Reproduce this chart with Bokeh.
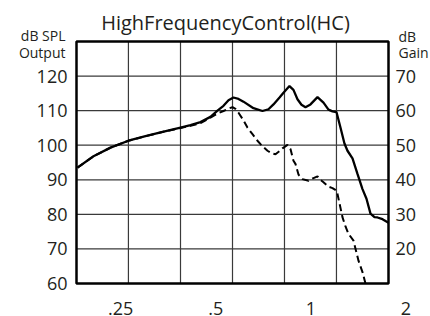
import math
from bokeh.plotting import figure
from bokeh.models import Range1d
from bokeh.core.properties import value
from bokeh.embed import file_html
from bokeh.resources import INLINE

title_text = "HighFrequencyControl(HC)"

# frequency in kHz (log axis) and output in dB SPL (solid curve)
solid_freq = [0.1826, 0.2052, 0.2323, 0.2647, 0.2997, 0.3345, 0.3869, 0.4161, 0.4476, 0.4813,
              0.5066, 0.5292, 0.549, 0.5692, 0.5905, 0.6122, 0.6586, 0.7031, 0.7346, 0.7619,
              0.7963, 0.8196, 0.8561, 0.8814, 0.9076, 0.9344, 0.9621, 0.9978, 1.0501, 1.0970,
              1.1377, 1.1714, 1.2058, 1.2415, 1.2781, 1.3067, 1.3553, 1.4054, 1.4577, 1.5008,
              1.5452, 1.5908, 1.6261, 1.6864, 1.7618]
solid_db = [93.5, 96.8, 99.3, 101.3, 102.6, 103.7, 105.1, 105.8, 106.7, 108.2,
            110.0, 111.4, 113.0, 113.8, 113.4, 112.6, 110.7, 109.9, 110.4, 111.8,
            113.8, 115.2, 117.1, 116.0, 113.3, 111.7, 111.0, 111.8, 113.9, 112.3,
            110.3, 109.8, 109.6, 105.1, 100.5, 98.4, 96.2, 91.7, 87.3, 84.5,
            80.2, 79.2, 79.1, 78.6, 77.6]

# dashed curve
dash_freq = [0.1826, 0.2052, 0.2323, 0.2647, 0.2997, 0.3345, 0.3869, 0.4161, 0.4476, 0.4813,
             0.5066, 0.5292, 0.5528, 0.5652, 0.5776, 0.5905, 0.6122, 0.6302, 0.6538, 0.6781,
             0.7031, 0.7295, 0.7510, 0.7730, 0.7963, 0.8137, 0.8437, 0.8624, 0.8814, 0.8943,
             0.9143, 0.9415, 0.9834, 1.0199, 1.0501, 1.0732, 1.0970, 1.1377, 1.1714, 1.2058,
             1.2150, 1.2596, 1.2878, 1.3158, 1.3652, 1.4158, 1.4577, 1.4897]
dash_db = [93.5, 96.8, 99.3, 101.3, 102.6, 103.7, 105.0, 105.6, 106.4, 108.0,
           109.2, 109.9, 110.7, 111.0, 110.5, 109.4, 107.2, 105.1, 103.2, 101.3,
           99.7, 98.4, 97.7, 97.4, 98.3, 99.1, 100.1, 98.9, 95.5, 94.6,
           91.5, 90.2, 89.7, 90.5, 91.0, 90.0, 89.3, 88.0, 87.6, 86.9,
           85.9, 79.2, 76.5, 74.4, 72.4, 66.6, 63.3, 60.0]

x_tick_values = [0.25, 0.5, 1, 2]
x_tick_labels = [".25", ".5", "1", "2"]
grid_freqs = [0.2647, 0.3869, 0.5652, 0.8256, 1.2058]
output_ticks = [60, 70, 80, 90, 100, 110, 120]
gain_ticks = [20, 30, 40, 50, 60, 70]
gain_shift = 50  # dB Gain = dB SPL - 50
left_header = ["dB SPL", "Output"]
right_header = ["dB", "Gain"]

FONT = "Open Sans"
INK = "#231f20"

# plot box (data) and its place on the canvas (pixels)
x0, x1 = 0.1813, 1.762
y0, y1 = 60, 130
W, H = 430, 316
BOX_L, BOX_R, BOX_T, BOX_B = 76, 388, 41, 283

# extend the ranges so that the box sits at the wanted pixels on the full canvas
lx0, lx1 = math.log10(x0), math.log10(x1)
ppu_x = (BOX_R - BOX_L) / (lx1 - lx0)
xr = Range1d(10 ** (lx0 - BOX_L / ppu_x), 10 ** (lx1 + (W - BOX_R) / ppu_x))
ppu_y = (BOX_B - BOX_T) / (y1 - y0)
yr = Range1d(y0 - (H - BOX_B) / ppu_y, y1 + BOX_T / ppu_y)

p = figure(width=W, height=H, x_axis_type="log", x_axis_location=None, y_axis_location=None,
           x_range=xr, y_range=yr, output_backend="svg", toolbar_location=None,
           min_border=0)
p.outline_line_color = None
p.grid.visible = False
p.extra_y_ranges = {"gain": Range1d(yr.start - gain_shift, yr.end - gain_shift)}

# grid lines inside the box
gy = output_ticks[1:]
p.segment(x0=[x0] * len(gy), x1=[x1] * len(gy), y0=gy, y1=gy,
          line_color="#3a3a3a", line_width=1.2)
p.segment(x0=grid_freqs, x1=grid_freqs, y0=[y0] * len(grid_freqs), y1=[y1] * len(grid_freqs),
          line_color="#3a3a3a", line_width=1.2)

# curves
p.line(solid_freq, solid_db, line_color="black", line_width=2.3)
p.line(dash_freq, dash_db, line_color="black", line_width=2.0, line_dash="7 4")

# box frame
p.quad(left=[x0], right=[x1], bottom=[y0], top=[y1], fill_color=None,
       line_color="black", line_width=2.5)

tf = value(FONT)
# left tick labels (dB SPL)
p.text(x=[x0] * len(output_ticks), y=output_ticks, text=[str(v) for v in output_ticks],
       x_offset=-9, text_align="right", text_baseline="middle",
       text_font=tf, text_font_size="18px", text_color=INK)
# right tick labels (dB Gain)
p.text(x=[x1] * len(gain_ticks), y=gain_ticks, text=[str(v) for v in gain_ticks],
       y_range_name="gain", x_offset=7, text_align="left", text_baseline="middle",
       text_font=tf, text_font_size="18px", text_color=INK)
# frequency labels
p.text(x=x_tick_values, y=[y0] * len(x_tick_values), text=x_tick_labels,
       y_offset=25, text_align="center", text_baseline="alphabetic",
       text_font=tf, text_font_size="18px", text_color=INK)
# title
p.text(x=[(x0 * x1) ** 0.5], y=[y1], text=[title_text], x_offset=-7, y_offset=-19,
       text_align="center", text_baseline="alphabetic",
       text_font=tf, text_font_size="20px", text_color=INK)
# axis headers
p.text(x=[x0, x0], y=[y1, y1], text=left_header, x_offset=-11, y_offset=[-6, 11],
       text_align="right", text_baseline="alphabetic",
       text_font=tf, text_font_size="14px", text_color=INK)
p.text(x=[x1, x1], y=[y1, y1], text=right_header, x_offset=10, y_offset=[-5, 11],
       text_align="left", text_baseline="alphabetic",
       text_font=tf, text_font_size="14px", text_color=INK)

open("out.html", "w").write(file_html(p, INLINE))
